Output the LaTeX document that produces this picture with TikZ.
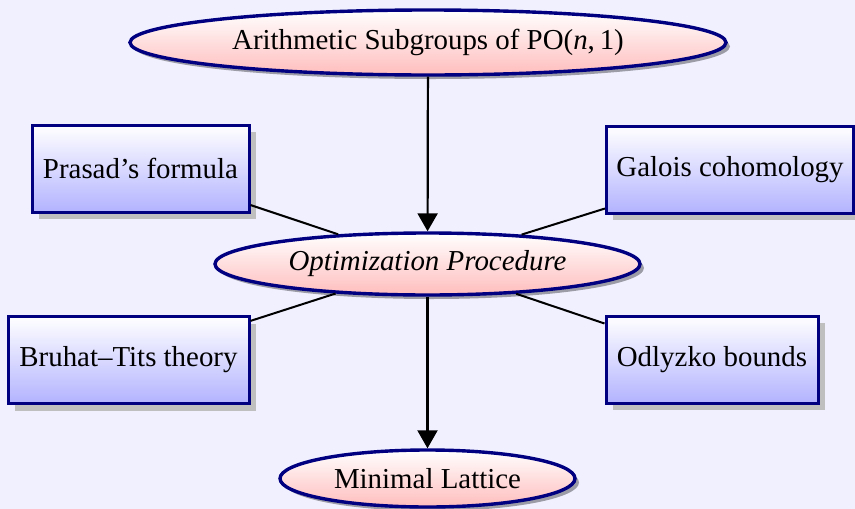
\documentclass[tikz,border=0pt]{standalone}
\usepackage{fontspec}
\setmainfont{Liberation Serif}
\usetikzlibrary{shapes.geometric,shadows,arrows.meta}
\definecolor{bgc}{RGB}{240,240,255}
\definecolor{navyc}{RGB}{0,0,128}
\begin{document}
\begin{tikzpicture}[x=1pt,y=-1pt,
  every node/.style={font=\fontsize{28.9}{34}\selectfont},
  ell/.style={ellipse, draw=navyc, line width=3.4pt, top color=white, bottom color=red!26, inner sep=0pt,
    drop shadow={shadow xshift=4pt, shadow yshift=-4pt, opacity=0.35, fill=black}},
  topic/.style={rectangle, draw=navyc, line width=3pt, top color=white, bottom color=blue!30,
    inner xsep=10pt, inner ysep=0pt, minimum height=87pt,
    drop shadow={shadow xshift=7pt, shadow yshift=-7pt, fill=black!25, opacity=1}},
  link/.style={line width=2pt},
  flow/.style={line width=2.2pt, -{Triangle[length=18pt,width=20pt]}}
]
\fill[bgc] (0,0) rectangle (855,509);
\useasboundingbox (0,0) rectangle (855,509);

\node[ell, minimum width=596pt, minimum height=65pt] (top) at (428,42.5) {Arithmetic Subgroups of PO(\textit{n},\,1)};
\node[ell, minimum width=425pt, minimum height=62pt] (opt) at (427.5,264) {\textit{Optimization Procedure}};
\node[ell, minimum width=295pt, minimum height=57pt] (min) at (427.5,478.5) {Minimal Lattice};

\node[topic, minimum width=217pt] (pra) at (140.5,168.5) {Prasad’s formula};
\node[topic, minimum width=246pt] (gal) at (730,169.5) {Galois cohomology};
\node[topic, minimum width=241pt] (bru) at (128.5,360) {Bruhat–Tits theory};
\node[topic, minimum width=212pt] (odl) at (712,359.5) {Odlyzko bounds};

\draw[link] (pra) -- (opt);
\draw[link] (gal) -- (opt);
\draw[link] (bru) -- (opt);
\draw[link] (odl) -- (opt);
\draw[flow] (top) -- (opt);
\draw[flow] (opt) -- (min);
\end{tikzpicture}
\end{document}
